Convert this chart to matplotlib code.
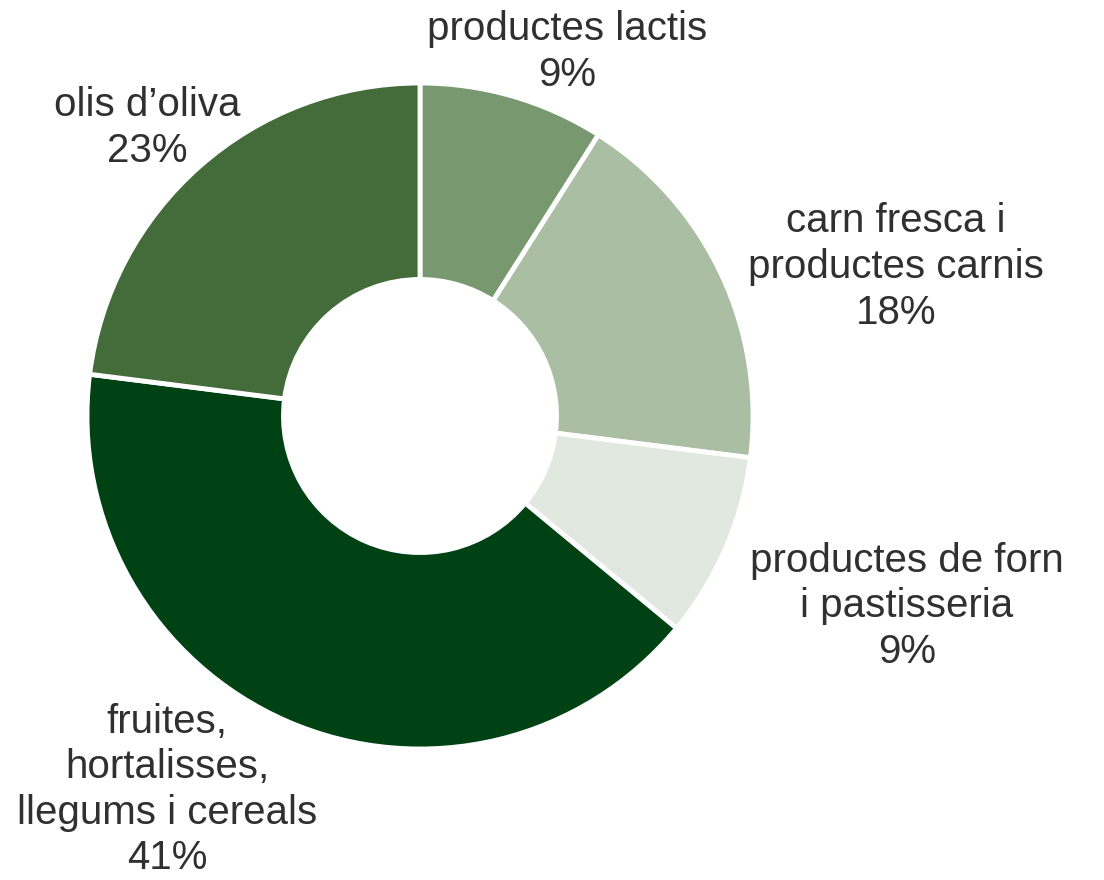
"""
Donut chart: distribucio per tipus de producte.
"""

import matplotlib
matplotlib.use("Agg")
import matplotlib.pyplot as plt

# data

labels = [
    "productes lactis",
    "carn fresca i\nproductes carnis",
    "productes de forn\ni pastisseria",
    "fruites,\nhortalisses,\nllegums i cereals",
    "olis d\u2019oliva",
]
values = [9, 18, 9, 41, 23]
colors = ["#789870", "#a9bea3", "#e1e8df", "#004214", "#436c3a"]

# layout in pixels (image is 1104 x 880)
W, H = 1104, 880
CX, CY, R = 420, 416, 333
label_px = [(567, 52), (896, 267), (907, 606), (167, 790), (147, 128)]


def px_to_data(x, y):
    """ Pixel coords (top-left origin) to pie data coords. """
    return (x - CX) / R, (CY - y) / R


fig = plt.figure(figsize=(W / 100, H / 100), dpi=100)
ax = fig.add_axes([0, 0, 1, 1])

ax.pie(values, colors=colors, startangle=90, counterclock=False, radius=1.0,
       wedgeprops=dict(width=0.59, edgecolor="white", linewidth=3.5))

for lab, val, (x, y) in zip(labels, values, label_px):
    dx, dy = px_to_data(x, y)
    ax.text(dx, dy, f"{lab}\n{val}%", ha="center", va="center",
            fontsize=29, family=["Liberation Sans", "DejaVu Sans"],
            color="#303030", linespacing=1.25)

ax.set_xlim(-CX / R, (W - CX) / R)
ax.set_ylim(-(H - CY) / R, CY / R)
ax.set_aspect("equal")
ax.axis("off")

fig.savefig("out.png", dpi=100)
